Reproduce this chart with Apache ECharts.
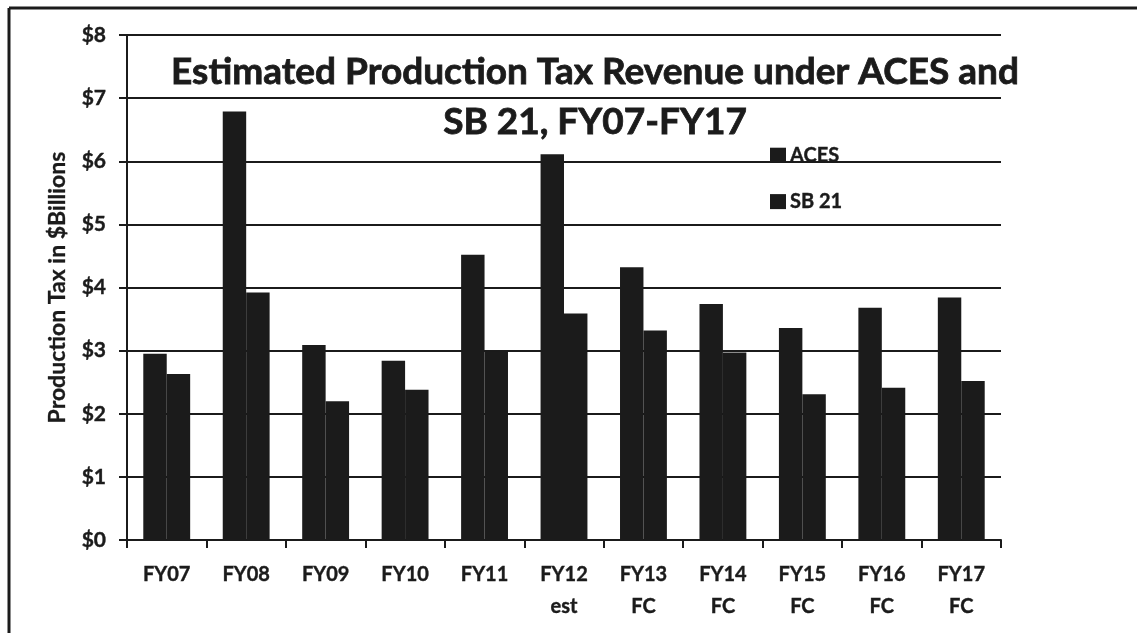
<!DOCTYPE html>
<html>
<head>
<meta charset="utf-8">
<script src="https://cdn.jsdelivr.net/npm/echarts@6/dist/echarts.min.js"></script>
<style>
html,body{margin:0;padding:0;background:#fff;}
#chart{width:1137px;height:633px;}
</style>
</head>
<body>
<div id="chart"></div>
<script>
const categories = ['FY07','FY08','FY09','FY10','FY11','FY12\nest','FY13\nFC','FY14\nFC','FY15\nFC','FY16\nFC','FY17\nFC'];
const acesValues = [2.95, 6.79, 3.09, 2.84, 4.52, 6.11, 4.32, 3.74, 3.36, 3.68, 3.84];
const sb21Values = [2.63, 3.92, 2.20, 2.38, 2.99, 3.59, 3.32, 2.97, 2.31, 2.41, 2.52];
const seriesNames = ['ACES', 'SB 21'];
const titleText = 'Estimated Production Tax Revenue under ACES and\nSB 21, FY07-FY17';
const yAxisName = 'Production Tax in $Billions';

const INK = '#1b1b1b';
const FONT = 'Lato';
const chart = echarts.init(document.getElementById('chart'));
chart.setOption({
  backgroundColor: '#ffffff',
  animation: false,
  grid: {left: 127, right: 136, top: 35, bottom: 93, containLabel: false},
  legend: {
    orient: 'vertical', left: 765, top: 140, itemGap: 26,
    itemWidth: 16, itemHeight: 15, icon: 'rect', itemGap: 26,
    textStyle: {fontFamily: FONT, fontWeight: 'bold', fontSize: 20, color: INK, padding: [0,0,0,-1],
                textBorderColor: INK, textBorderWidth: 0.4},
    data: seriesNames
  },
  xAxis: {
    type: 'category', data: categories,
    axisLine: {lineStyle: {color: INK, width: 2}},
    axisTick: {show: true, length: 8, lineStyle: {color: INK, width: 2}},
    axisLabel: {fontFamily: FONT, fontWeight: 'bold', fontSize: 20, color: INK, lineHeight: 32, margin: 19, interval: 0,
                textBorderColor: INK, textBorderWidth: 0.4}
  },
  yAxis: {
    type: 'value', min: 0, max: 8, interval: 1,
    name: yAxisName, nameLocation: 'middle', nameGap: 58, nameRotate: 90,
    nameTextStyle: {fontFamily: FONT, fontWeight: 'bold', fontSize: 23, color: INK, textBorderColor: INK, textBorderWidth: 0.3},
    axisLine: {show: true, lineStyle: {color: INK, width: 2}},
    axisTick: {show: true, length: 8, lineStyle: {color: INK, width: 2}},
    axisLabel: {fontFamily: FONT, fontWeight: 'bold', fontSize: 21, color: INK, margin: 21, formatter: v => '$' + v,
                textBorderColor: INK, textBorderWidth: 0.4},
    splitLine: {lineStyle: {color: INK, width: 2}}
  },
  series: [
    {name: seriesNames[0], type: 'bar', data: acesValues, itemStyle: {color: INK}, barGap: '0%', barCategoryGap: '41%'},
    {name: seriesNames[1], type: 'bar', data: sb21Values, itemStyle: {color: INK}, barGap: '0%', barCategoryGap: '41%'}
  ],
  graphic: [
    {type: 'line', shape: {x1: 9, y1: 8, x2: 1137, y2: 8}, style: {stroke: INK, lineWidth: 3}, z: 100},
    {type: 'line', shape: {x1: 9, y1: 8, x2: 9, y2: 633}, style: {stroke: INK, lineWidth: 3}, z: 100},
    {type: 'text', x: 595, y: 47, z: 100,
     style: {text: titleText, align: 'center', verticalAlign: 'top', fill: INK,
             stroke: INK, lineWidth: 0.8,
             font: 'bold 37px Lato', lineHeight: 50}}
  ]
});
</script>
</body>
</html>
